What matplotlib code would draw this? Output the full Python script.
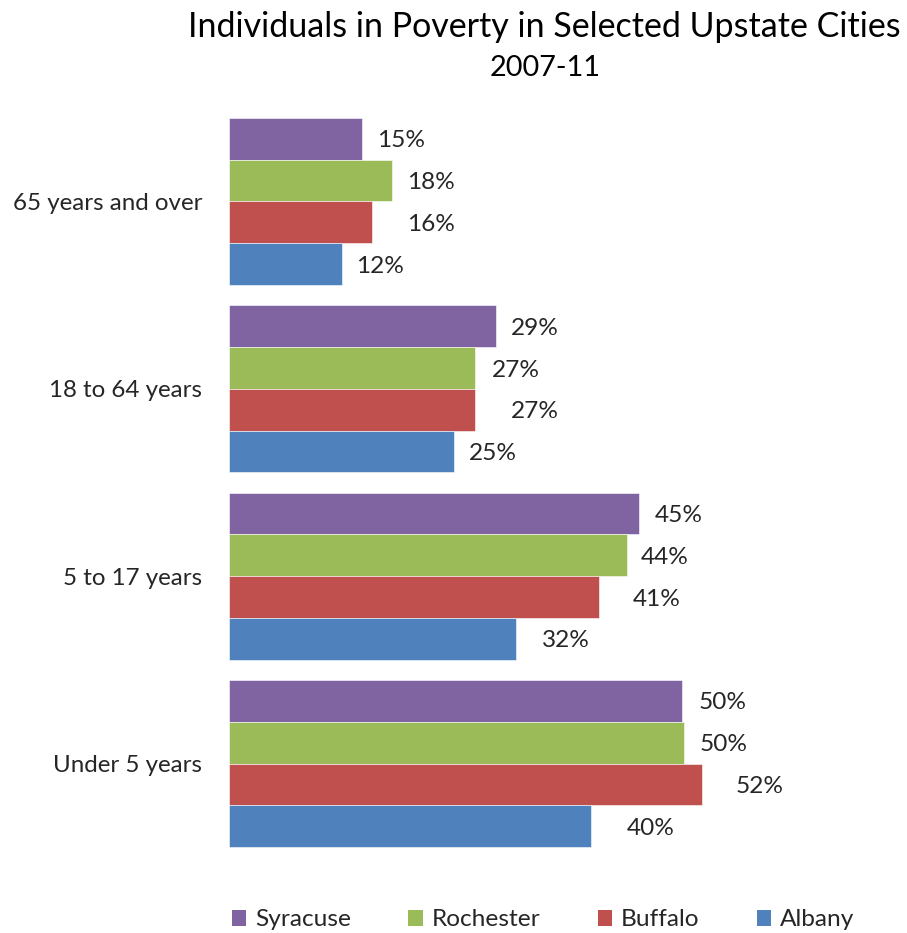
import matplotlib
matplotlib.use("Agg")
import matplotlib.pyplot as plt
import numpy as np
from matplotlib.patches import Patch

plt.rcParams['font.family'] = ['Lato', 'DejaVu Sans']

categories = ["Under 5 years", "5 to 17 years", "18 to 64 years", "65 years and over"]
series_names = ["Syracuse", "Rochester", "Buffalo", "Albany"]
syracuse = [49.9, 45.1, 29.4, 14.6]
rochester = [50.1, 43.8, 27.1, 17.9]
buffalo = [52.1, 40.7, 27.1, 15.7]
albany = [39.8, 31.6, 24.7, 12.4]
colors = ["#8064A2", "#9BBB59", "#C0504D", "#4F81BD"]
# label nudges (pixels) per series per category, to mimic the original placement
label_offsets = [
    [16, 16, 15, 15],
    [15, 14, 17, 15],
    [33, 34, 36, 35],
    [36, 26, 15, 14],
]

W, H = 907, 933
fig = plt.figure(figsize=(W / 100, H / 100), dpi=100)
ax = fig.add_axes([229.3 / W, 1 - 857.2 / H, 544.8 / W, (857.2 - 107.8) / H])

y = np.arange(len(categories))
h = 0.2229
shifts = [1.5, 0.5, -0.5, -1.5]
data = [syracuse, rochester, buffalo, albany]
px_to_pt = 0.72
for vals, name, col, sh, offs in zip(data, series_names, colors, shifts, label_offsets):
    bars = ax.barh(y + sh * h, vals, height=h, color=col, label=name,
                   edgecolor='white', linewidth=0.4)
    for b, v, o in zip(bars, vals, offs):
        ax.annotate(f"{round(v):d}%", (b.get_width(), b.get_y() + b.get_height() / 2),
                    xytext=(o * px_to_pt, -1.5), textcoords='offset points',
                    ha='left', va='center', fontsize=17.6, color='#262626')

ax.set_xlim(0, 60)
ax.set_ylim(-0.5, 3.5)
ax.set_yticks(y)
ax.set_yticklabels(categories, fontsize=17.4, color='#262626')
ax.tick_params(axis='y', length=0, pad=19.5)
ax.set_xticks([])
for s in ax.spines.values():
    s.set_visible(False)

fig.text(544 / W, 1 - 27 / H, "Individuals in Poverty in Selected Upstate Cities",
         ha='center', va='center', fontsize=24.5, color='black')
fig.text(545 / W, 1 - 68 / H, "2007-11", ha='center', va='center', fontsize=20.8, color='black')

handles = [Patch(facecolor=c, label=n) for c, n in zip(colors, series_names)]
fig.legend(handles=handles, loc='center', bbox_to_anchor=(543 / W, 1 - 920 / H), ncol=4,
           frameon=False, fontsize=17.6, handlelength=0.6, handleheight=0.6,
           handletextpad=0.35, columnspacing=2.35, labelcolor='#262626')

fig.savefig("out.png", dpi=100)
